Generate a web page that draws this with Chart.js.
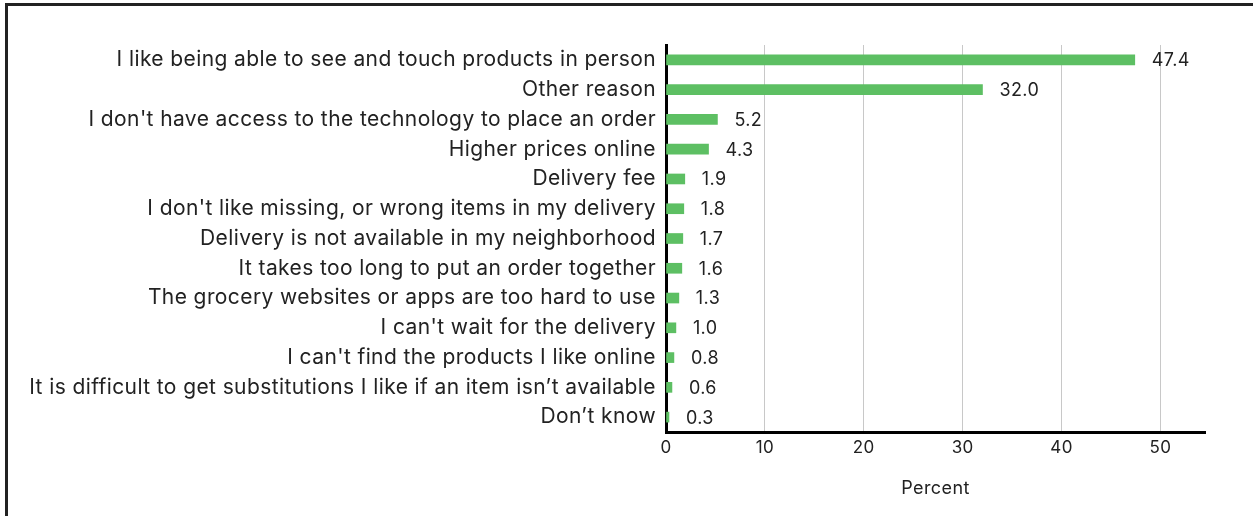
<!DOCTYPE html>
<html>
<head>
<meta charset="utf-8">
<script src="https://cdn.jsdelivr.net/npm/chart.js@4.4.1/dist/chart.umd.min.js"></script>
<style>
  html, body { margin: 0; padding: 0; background: #fff; overflow: hidden; }
  #frame { position: absolute; left: 5px; top: 3px; width: 1260px; height: 530px;
           border-left: 3px solid #222; border-top: 3px solid #222; }
  #wrap { position: absolute; left: 0; top: 0; width: 1253px; height: 516px; }
</style>
</head>
<body>
<div id="frame"></div>
<div id="wrap"><canvas id="chart" width="1253" height="516"></canvas></div>
<script>
// categories + values
const reasons = [
  "I like being able to see and touch products in person",
  "Other reason",
  "I don't have access to the technology to place an order",
  "Higher prices online",
  "Delivery fee",
  "I don't like missing, or wrong items in my delivery",
  "Delivery is not available in my neighborhood",
  "It takes too long to put an order together",
  "The grocery websites or apps are too hard to use",
  "I can't wait for the delivery",
  "I can't find the products I like online",
  "It is difficult to get substitutions I like if an item isn\u2019t available",
  "Don\u2019t know"
];
const percent = [47.4, 32.0, 5.2, 4.3, 1.9, 1.8, 1.7, 1.6, 1.3, 1.0, 0.8, 0.6, 0.3];
const xTicks = [0, 10, 20, 30, 40, 50];

const FONT = "Inter, 'Liberation Sans', Arial, sans-serif";

// texte un peu plus espacé, comme sur l'original
const spacing = {
  id: 'spacing',
  beforeDraw(chart) { chart.ctx.letterSpacing = '0.4px'; },
  afterDraw(chart) { chart.ctx.letterSpacing = '0px'; }
};

// valeurs au bout des barres
const valueLabels = {
  id: 'valueLabels',
  afterDatasetsDraw(chart) {
    const ctx = chart.ctx;
    const meta = chart.getDatasetMeta(0);
    ctx.save();
    ctx.font = '18px ' + FONT;
    ctx.fillStyle = '#222';
    ctx.textBaseline = 'middle';
    ctx.textAlign = 'left';
    meta.data.forEach((bar, i) => {
      ctx.fillText(percent[i].toFixed(1), bar.x + 17, bar.y + 1);
    });
    ctx.restore();
  }
};

new Chart(document.getElementById('chart').getContext('2d'), {
  type: 'bar',
  data: {
    labels: reasons,
    datasets: [{
      data: percent,
      backgroundColor: '#5dbf63',
      barThickness: 10,
      borderWidth: 0
    }]
  },
  plugins: [spacing, valueLabels],
  options: {
    indexAxis: 'y',
    responsive: false,
    animation: false,
    layout: { padding: { top: 45, right: 48, left: 0, bottom: 0 } },
    plugins: { legend: { display: false }, tooltip: { enabled: false } },
    scales: {
      x: {
        min: 0,
        max: 54.5,
        afterBuildTicks: (s) => { s.ticks = xTicks.map(v => ({ value: v })); },
        afterFit: (s) => { s.height = 84; },
        ticks: { color: '#222', font: { family: FONT, size: 17 }, padding: 6 },
        grid: { color: '#c8c8c8', lineWidth: 1, drawTicks: false },
        border: { display: true, color: '#000', width: 3 },
        title: { display: true, text: 'Percent', color: '#222',
                 font: { family: FONT, size: 18 }, padding: { top: 12, bottom: 17 } }
      },
      y: {
        afterFit: (s) => { s.width = 666; },
        ticks: { color: '#222', font: { family: FONT, size: 21 }, padding: 10, autoSkip: false },
        grid: { display: false, drawTicks: false },
        border: { display: true, color: '#000', width: 3 }
      }
    }
  }
});
</script>
</body>
</html>
